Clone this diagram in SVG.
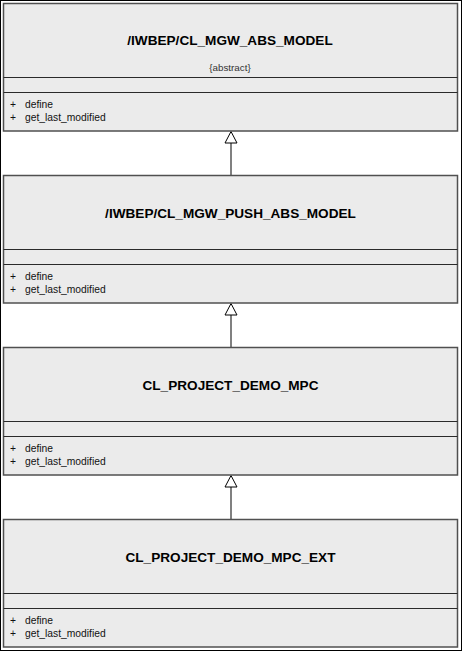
<svg xmlns="http://www.w3.org/2000/svg" width="462" height="651" viewBox="0 0 462 651">
<style>
.box{fill:#ebebeb;stroke:#505050;stroke-width:1.5}
.sep{stroke:#2a2a2a;stroke-width:1.2}
.title{font-family:"Liberation Sans",Arial,sans-serif;font-weight:bold;font-size:13.6px;fill:#000;text-anchor:middle}
.stereo{font-family:"Liberation Sans",Arial,sans-serif;font-size:9.8px;fill:#333;text-anchor:middle}
.mem{font-family:"Liberation Sans",Arial,sans-serif;font-size:10.3px;fill:#111}
.conn{stroke:#808080;stroke-width:2;fill:none}
.head{fill:#fff;stroke:#000;stroke-width:1}
</style>
<rect x="0" y="0" width="462" height="651" fill="#fff"/>
<rect x="0.5" y="0.5" width="461" height="650" fill="none" stroke="#000" stroke-width="1"/>
<g id="connectors">
<line class="conn" x1="231" y1="143" x2="231" y2="175"/>
<polygon class="head" points="231,131.5 225,143 237,143"/>
<line class="conn" x1="231" y1="315" x2="231" y2="347"/>
<polygon class="head" points="231,303.5 225,315 237,315"/>
<line class="conn" x1="231" y1="487" x2="231" y2="519"/>
<polygon class="head" points="231,475.5 225,487 237,487"/>
</g>
<g id="cl_mgw_abs_model">
<rect class="box" x="3.5" y="3.5" width="454" height="127.5"/>
<line class="sep" x1="3.5" y1="77.5" x2="457.5" y2="77.5"/>
<line class="sep" x1="3.5" y1="92.5" x2="457.5" y2="92.5"/>
<text class="title" x="230" y="44.5">/IWBEP/CL_MGW_ABS_MODEL</text>
<text class="stereo" x="230" y="70.5">{abstract}</text>
<text class="mem" x="10" y="108">+</text><text class="mem" x="25" y="108">define</text>
<text class="mem" x="10" y="120.5">+</text><text class="mem" x="25" y="120.5">get_last_modified</text>
</g>
<g id="cl_mgw_push_abs_model">
<rect class="box" x="3.5" y="175.5" width="454" height="127.5"/>
<line class="sep" x1="3.5" y1="249.5" x2="457.5" y2="249.5"/>
<line class="sep" x1="3.5" y1="264.5" x2="457.5" y2="264.5"/>
<text class="title" x="230.5" y="217.5">/IWBEP/CL_MGW_PUSH_ABS_MODEL</text>
<text class="mem" x="10" y="280">+</text><text class="mem" x="25" y="280">define</text>
<text class="mem" x="10" y="292.5">+</text><text class="mem" x="25" y="292.5">get_last_modified</text>
</g>
<g id="cl_project_demo_mpc">
<rect class="box" x="3.5" y="347.5" width="454" height="127.5"/>
<line class="sep" x1="3.5" y1="421.5" x2="457.5" y2="421.5"/>
<line class="sep" x1="3.5" y1="436.5" x2="457.5" y2="436.5"/>
<text class="title" x="230.5" y="389.5">CL_PROJECT_DEMO_MPC</text>
<text class="mem" x="10" y="452">+</text><text class="mem" x="25" y="452">define</text>
<text class="mem" x="10" y="464.5">+</text><text class="mem" x="25" y="464.5">get_last_modified</text>
</g>
<g id="cl_project_demo_mpc_ext">
<rect class="box" x="3.5" y="519.5" width="454" height="127.5"/>
<line class="sep" x1="3.5" y1="593.5" x2="457.5" y2="593.5"/>
<line class="sep" x1="3.5" y1="608.5" x2="457.5" y2="608.5"/>
<text class="title" x="230.5" y="561.5">CL_PROJECT_DEMO_MPC_EXT</text>
<text class="mem" x="10" y="624">+</text><text class="mem" x="25" y="624">define</text>
<text class="mem" x="10" y="636.5">+</text><text class="mem" x="25" y="636.5">get_last_modified</text>
</g>
</svg>
